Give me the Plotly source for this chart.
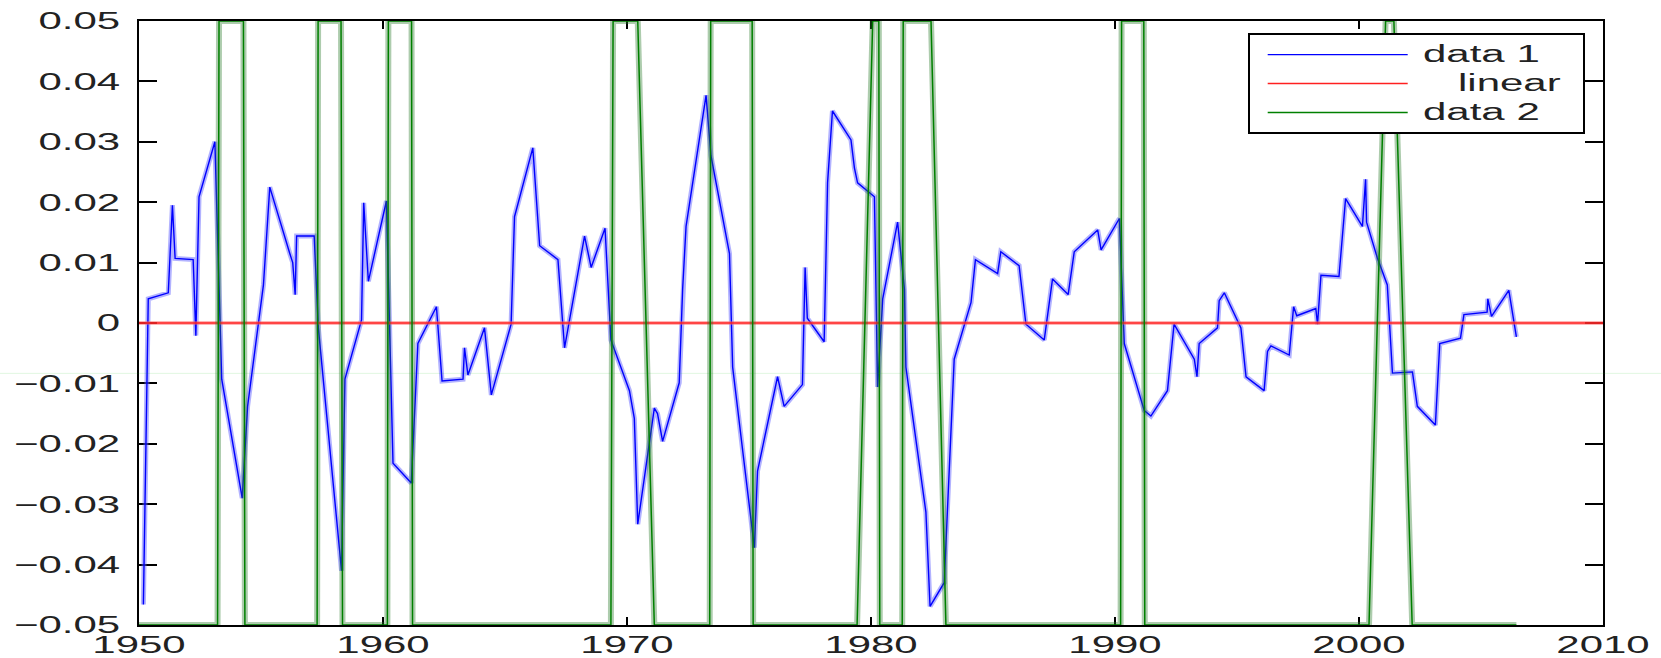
import plotly.graph_objects as go

# ---------------- data ----------------
data1_year = [1950.18, 1950.38, 1951.20, 1951.37, 1951.48, 1952.22, 1952.33, 1952.46, 1953.11, 1953.39,
              1954.23, 1954.45, 1955.10, 1955.36, 1956.18, 1956.30, 1956.40, 1956.46, 1957.18, 1957.35,
              1958.30, 1958.44, 1959.12, 1959.21, 1959.40, 1960.14, 1960.41, 1961.16, 1961.43, 1962.19,
              1962.42, 1963.28, 1963.34, 1963.48, 1964.16, 1964.44, 1965.25, 1965.39, 1966.14, 1966.42,
              1967.17, 1967.44, 1968.26, 1968.53, 1969.10, 1969.34, 1970.10, 1970.30, 1970.44, 1971.12,
              1971.25, 1971.46, 1972.14, 1972.28, 1972.42, 1973.24, 1973.44, 1974.20, 1974.33, 1975.22,
              1975.35, 1976.17, 1976.44, 1977.19, 1977.30, 1977.39, 1978.08, 1978.22, 1978.42, 1979.18,
              1979.32, 1979.45, 1980.14, 1980.27, 1980.48, 1981.09, 1981.37, 1981.43, 1982.25, 1982.42,
              1983.00, 1983.28, 1983.41, 1984.10, 1984.28, 1985.19, 1985.32, 1986.07, 1986.35, 1987.10,
              1987.44, 1988.08, 1988.33, 1989.29, 1989.43, 1990.18, 1990.38, 1991.20, 1991.47, 1992.15,
              1992.42, 1993.25, 1993.36, 1993.45, 1994.20, 1994.27, 1994.48, 1995.16, 1995.37, 1996.11,
              1996.25, 1996.39, 1997.14, 1997.32, 1997.45, 1998.23, 1998.30, 1998.44, 1999.18, 1999.45,
              2000.14, 2000.27, 2000.31, 2000.75, 2001.16, 2001.37, 2002.19, 2002.39, 2003.13, 2003.31,
              2004.16, 2004.30, 2005.25, 2005.28, 2005.43, 2006.14, 2006.45]
data1_value = [-0.0466, 0.0040, 0.0050, 0.0195, 0.0107, 0.0105, -0.0021, 0.0209, 0.0300, -0.0093,
               -0.0290, -0.0138, 0.0063, 0.0225, 0.0115, 0.0100, 0.0047, 0.0144, 0.0144, -0.0008,
               -0.0410, -0.0093, 0.0005, 0.0199, 0.0069, 0.0202, -0.0232, -0.0265, -0.0034, 0.0027,
               -0.0096, -0.0093, -0.0041, -0.0086, -0.0008, -0.0119, -0.0002, 0.0176, 0.0290, 0.0128,
               0.0105, -0.0041, 0.0144, 0.0092, 0.0157, -0.0028, -0.0112, -0.0158, -0.0333, -0.0141,
               -0.0150, -0.0196, -0.0099, 0.0056, 0.0160, 0.0377, 0.0277, 0.0115, -0.0073, -0.0372,
               -0.0245, -0.0089, -0.0138, -0.0102, 0.0092, 0.0008, -0.0031, 0.0232, 0.0351, 0.0303,
               0.0257, 0.0232, 0.0209, -0.0106, 0.0040, 0.0167, 0.0056, -0.0073, -0.0313, -0.0469,
               -0.0430, -0.0171, -0.0060, 0.0034, 0.0105, 0.0082, 0.0118, 0.0095, -0.0002, -0.0028,
               0.0073, 0.0047, 0.0118, 0.0154, 0.0121, 0.0173, -0.0034, -0.0145, -0.0154, -0.0112,
               -0.0002, -0.0060, -0.0089, -0.0034, -0.0008, 0.0037, 0.0050, -0.0008, -0.0089, -0.0112,
               -0.0047, -0.0038, -0.0053, 0.0027, 0.0012, 0.0024, -0.0002, 0.0079, 0.0077, 0.0206,
               0.0160, 0.0238, 0.0167, 0.0108, 0.0063, -0.0083, -0.0081, -0.0138, -0.0169, -0.0034,
               -0.0025, 0.0014, 0.0018, 0.0040, 0.0011, 0.0054, -0.0023]

linear_year = [1950, 2010]
linear_value = [0.0, 0.0]

data2_year = [1950.00,
              1953.22, 1953.28, 1954.28, 1954.34,
              1957.30, 1957.34, 1958.28, 1958.34,
              1960.18, 1960.22, 1961.17, 1961.21,
              1969.34, 1969.43, 1970.44, 1971.12,
              1973.39, 1973.43, 1975.13, 1975.17,
              1979.43, 1980.07, 1980.32, 1980.36,
              1981.28, 1981.32, 1982.46, 1983.07,
              1990.23, 1990.27, 1991.18, 1991.22,
              2000.41, 2001.09, 2001.43, 2002.18,
              2006.45]
data2_value = [-0.05,
               -0.05, 0.05, 0.05, -0.05,
               -0.05, 0.05, 0.05, -0.05,
               -0.05, 0.05, 0.05, -0.05,
               -0.05, 0.05, 0.05, -0.05,
               -0.05, 0.05, 0.05, -0.05,
               -0.05, 0.05, 0.05, -0.05,
               -0.05, 0.05, 0.05, -0.05,
               -0.05, 0.05, 0.05, -0.05,
               -0.05, 0.05, 0.05, -0.05,
               -0.05]

x_tick_vals = [1950, 1960, 1970, 1980, 1990, 2000, 2010]
x_tick_text = ["1950", "1960", "1970", "1980", "1990", "2000", "2010"]
y_tick_vals = [0.05, 0.04, 0.03, 0.02, 0.01, 0.0, -0.01, -0.02, -0.03, -0.04, -0.05]
y_tick_text = ["0.05", "0.04", "0.03", "0.02", "0.01", "0",
               "\u22120.01", "\u22120.02", "\u22120.03", "\u22120.04", "\u22120.05"]

NB = "\u00a0"
name_data1 = NB * 2 + "data 1" + NB * 20   # trailing spaces only size the legend box
name_linear = NB * 5 + "linear"
name_data2 = NB * 2 + "data 2"

# ---------------- figure ----------------
fig = go.Figure()
fig.add_trace(go.Scatter(x=data1_year, y=data1_value, mode="lines", showlegend=False, hoverinfo="skip",
                         line=dict(color="rgba(95,95,255,0.48)", width=5)))
fig.add_trace(go.Scatter(x=data1_year, y=data1_value, mode="lines", name=name_data1,
                         line=dict(color="#0000ff", width=1.4)))
fig.add_trace(go.Scatter(x=linear_year, y=linear_value, mode="lines", showlegend=False, hoverinfo="skip",
                         line=dict(color="rgba(255,90,90,0.45)", width=4)))
fig.add_trace(go.Scatter(x=linear_year, y=linear_value, mode="lines", name=name_linear,
                         line=dict(color="#ff2020", width=1.5)))
fig.add_trace(go.Scatter(x=data2_year, y=data2_value, mode="lines", showlegend=False, hoverinfo="skip",
                         line=dict(color="rgba(40,120,40,0.38)", width=6)))
fig.add_trace(go.Scatter(x=data2_year, y=data2_value, mode="lines", name=name_data2,
                         line=dict(color="#008000", width=1.5)))

fig.update_layout(
    width=1661, height=658,
    margin=dict(l=139, r=58, t=21, b=33, pad=0),
    paper_bgcolor="white", plot_bgcolor="white",
    font=dict(family="Liberation Sans, Arial, sans-serif", size=24, color="#222222"),
    showlegend=True,
    legend=dict(x=0.9875, y=0.98, xanchor="right", yanchor="top",
                bordercolor="black", borderwidth=2, bgcolor="white",
                itemwidth=140, font=dict(size=20), tracegroupgap=0),
    shapes=[dict(type="line", xref="paper", yref="paper", x0=-0.1, x1=1.05, y0=0.4166, y1=0.4166,
                 line=dict(color="rgba(0,190,0,0.12)", width=1), layer="above")],
)
fig.update_xaxes(range=[1950, 2010], tickvals=x_tick_vals, ticktext=x_tick_text,
                 ticks="inside", ticklen=8, tickwidth=2, tickcolor="black",
                 showline=True, linewidth=2, linecolor="black", mirror="ticks",
                 showgrid=False, zeroline=False, layer="below traces", automargin=False)
fig.update_yaxes(range=[-0.05, 0.05], tickvals=y_tick_vals, ticktext=y_tick_text,
                 ticks="inside", ticklen=18, tickwidth=2, tickcolor="black",
                 showline=True, linewidth=2, linecolor="black", mirror="ticks",
                 showgrid=False, zeroline=False, layer="below traces", ticklabelstandoff=12,
                 automargin=False)

post_js = """
document.body.style.margin='0px';
var gd = document.getElementById('{plot_id}');
function stretchSet(sel, sx, sy, dy){
  gd.querySelectorAll(sel).forEach(function(el){
    if (el.getAttribute('data-str')) return;
    var xa = parseFloat(el.getAttribute('x')) || 0;
    var ya = parseFloat(el.getAttribute('y')) || 0;
    var t = el.getAttribute('transform') || '';
    el.setAttribute('transform', t + ' translate(0,' + dy + ') translate(' + xa + ',' + ya + ') scale(' + sx + ',' + sy + ') translate(' + (-xa) + ',' + (-ya) + ')');
    el.setAttribute('data-str', '1');
  });
}
function stretchText(){
  stretchSet('.xtick text', 1.75, 1, -3);
  stretchSet('.ytick text', 1.75, 1, 0);
  stretchSet('.legendtext', 2.1, 1.2, 0);
  gd.querySelectorAll('.legendtext').forEach(function(el){
    el.textContent = el.textContent.replace(/\\u00a0+$/, '');
  });
  gd.querySelectorAll('.legendlines').forEach(function(el){
    if (el.getAttribute('data-shift')) return;
    var t = el.getAttribute('transform') || '';
    el.setAttribute('transform', t + ' translate(13,0)');
    el.setAttribute('data-shift', '1');
  });
}
stretchText();
setTimeout(stretchText, 200);
"""

fig.write_html("out.html", config={"displayModeBar": False}, post_script=post_js)
